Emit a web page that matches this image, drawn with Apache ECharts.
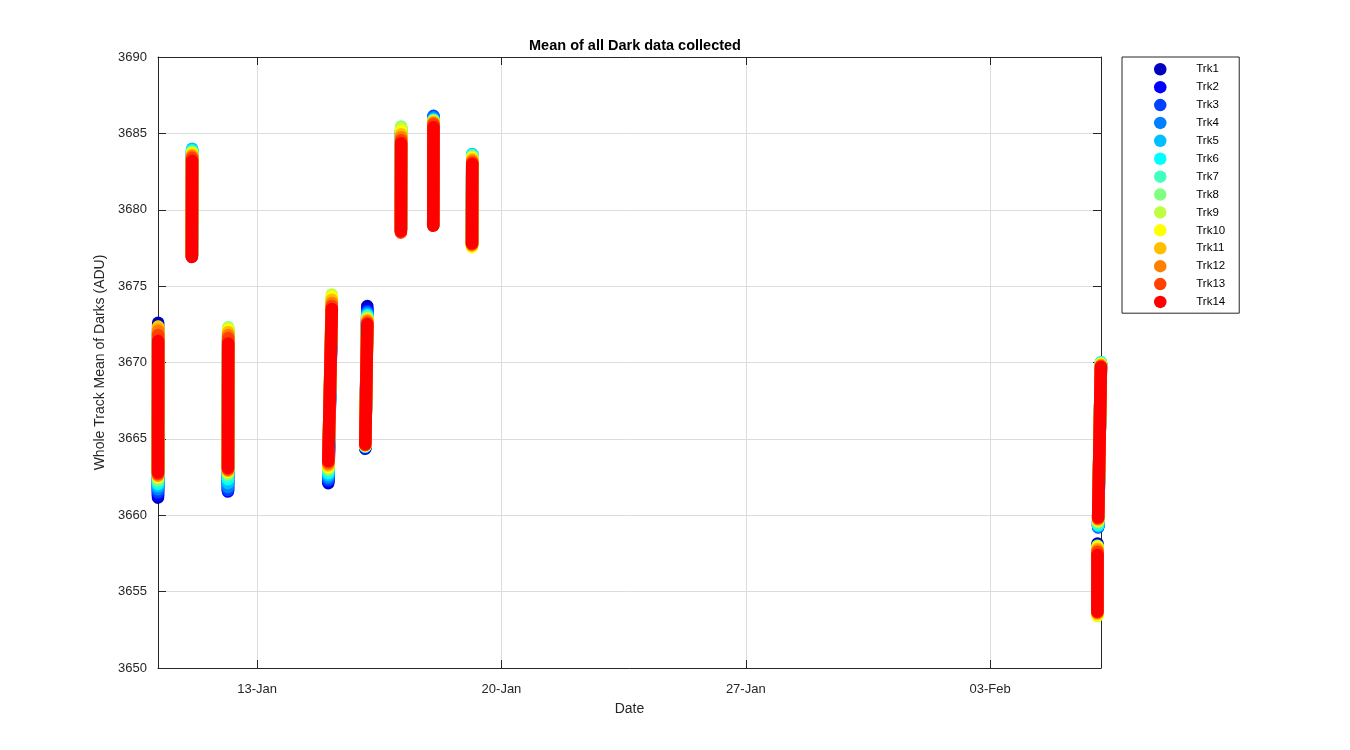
<!DOCTYPE html>
<html><head><meta charset="utf-8">
<script src="https://cdn.jsdelivr.net/npm/echarts@6/dist/echarts.min.js"></script>
<style>html,body{margin:0;padding:0;background:#fff}#c{width:1350px;height:750px}</style>
</head><body><div id="c"></div>
<script>
// ---------------- data ----------------
const trackNames = ['Trk1','Trk2','Trk3','Trk4','Trk5','Trk6','Trk7','Trk8','Trk9','Trk10','Trk11','Trk12','Trk13','Trk14'];
const trackColors = ['#0000bf','#0000ff','#0040ff','#0080ff','#00bfff','#00ffff','#40ffbf','#80ff80','#bfff40','#ffff00','#ffbf00','#ff8000','#ff4000','#ff0000'];

// each collection session: start / end time (UTC)
const sessionStart = ['2016-01-10T03:48','2016-01-11T03:05','2016-01-12T03:55','2016-01-15T00:55','2016-01-16T02:20','2016-01-17T02:50','2016-01-18T01:05','2016-01-19T03:45','2016-02-06T01:50','2016-02-06T02:20'];
const sessionEnd   = ['2016-01-10T03:55','2016-01-11T03:15','2016-01-12T04:05','2016-01-15T03:20','2016-01-16T03:45','2016-01-17T03:00','2016-01-18T01:15','2016-01-19T03:55','2016-02-06T01:55','2016-02-06T04:15'];

// per session, per track (Trk1..Trk14): value at session start (low) and at session end (high), ADU
const sessionLow = [
  [3661.15,3661.3,3661.5,3661.7,3661.9,3662.05,3662.2,3662.3,3662.45,3662.5,3662.6,3662.6,3662.7,3662.8],
  [3676.95,3676.95,3677.0,3677.0,3677.0,3677.0,3677.0,3677.0,3677.0,3677.0,3677.0,3677.0,3676.95,3676.9],
  [3661.6,3661.55,3661.65,3661.85,3662.1,3662.35,3662.55,3662.7,3662.8,3662.85,3662.9,3662.95,3663.0,3663.1],
  [3662.1,3662.2,3662.3,3662.45,3662.6,3662.75,3662.9,3663.0,3663.1,3663.15,3663.25,3663.35,3663.45,3663.55],
  [3664.35,3664.4,3664.45,3664.5,3664.5,3664.5,3664.5,3664.55,3664.55,3664.55,3664.6,3664.6,3664.6,3664.65],
  [3678.7,3678.7,3678.7,3678.7,3678.7,3678.7,3678.7,3678.7,3678.7,3678.65,3678.6,3678.55,3678.5,3678.6],
  [3679.0,3679.0,3679.0,3679.0,3679.0,3679.0,3679.0,3679.0,3679.0,3679.0,3679.0,3679.0,3679.0,3678.95],
  [3677.75,3677.75,3677.7,3677.7,3677.7,3677.7,3677.7,3677.65,3677.6,3677.55,3677.65,3677.7,3677.75,3677.8],
  [3653.8,3653.75,3653.7,3653.65,3653.6,3653.55,3653.5,3653.45,3653.4,3653.45,3653.55,3653.6,3653.65,3653.7],
  [3659.3,3659.25,3659.2,3659.25,3659.3,3659.35,3659.45,3659.55,3659.6,3659.65,3659.7,3659.75,3659.8,3659.85]
];
const sessionHigh = [
  [3672.6,3672.2,3672.0,3671.9,3671.9,3671.9,3672.0,3672.1,3672.2,3672.35,3672.3,3672.1,3671.8,3671.4],
  [3683.6,3683.7,3683.8,3683.9,3684.0,3683.9,3683.8,3683.8,3683.75,3683.7,3683.6,3683.5,3683.4,3683.2],
  [3671.5,3671.5,3671.6,3671.7,3671.8,3671.9,3672.1,3672.3,3672.25,3672.15,3672.0,3671.8,3671.6,3671.25],
  [3673.5,3673.6,3673.7,3673.8,3673.9,3674.0,3674.1,3674.3,3674.45,3674.3,3674.1,3673.9,3673.7,3673.5],
  [3673.7,3673.5,3673.35,3673.25,3673.15,3673.1,3673.0,3672.95,3672.9,3672.85,3672.8,3672.7,3672.6,3672.5],
  [3685.0,3685.05,3685.1,3685.15,3685.2,3685.25,3685.35,3685.45,3685.35,3685.15,3684.95,3684.75,3684.55,3684.35],
  [3686.0,3686.1,3686.15,3686.05,3685.95,3685.9,3685.85,3685.85,3685.8,3685.8,3685.75,3685.7,3685.6,3685.4],
  [3683.4,3683.45,3683.5,3683.55,3683.65,3683.6,3683.55,3683.5,3683.45,3683.4,3683.3,3683.2,3683.1,3683.0],
  [3658.15,3658.05,3657.95,3657.9,3657.9,3657.9,3657.9,3657.95,3658.0,3657.9,3657.8,3657.7,3657.6,3657.4],
  [3669.9,3669.95,3669.95,3670.0,3670.0,3670.0,3670.0,3669.95,3669.9,3669.9,3669.85,3669.8,3669.75,3669.7]
];

const xTickDates  = ['2016-01-13T00:00','2016-01-20T00:00','2016-01-27T00:00','2016-02-03T00:00'];
const xTickLabels = ['13-Jan','20-Jan','27-Jan','03-Feb'];
const xAxisStart = '2016-01-10T03:48';
const xAxisEnd   = '2016-02-06T04:18';
const yMin = 3650, yMax = 3690, yStep = 5;

// ---------------- chart ----------------
const T0 = Date.parse('2016-01-01T00:00:00Z');
const toDay = s => (Date.parse(s + ':00Z') - T0) / 86400000;
const tickDays = xTickDates.map(toDay);
const fmtX = v => { let i = tickDays.findIndex(d => Math.abs(d - v) < 1e-6); return i >= 0 ? xTickLabels[i] : ''; };

const AX = '#262626';
const series = trackNames.map((name, k) => {
  const data = [];
  sessionStart.forEach((s, i) => {
    data.push([toDay(s), sessionLow[i][k]]);
    data.push([toDay(sessionEnd[i]), sessionHigh[i][k]]);
    data.push([toDay(sessionEnd[i]), '-']);
  });
  return {
    name, type: 'line', data, clip: false, showSymbol: false, symbol: 'none',
    connectNulls: false, animation: false, silent: true,
    itemStyle: { color: trackColors[k] },
    lineStyle: { color: trackColors[k], width: 12.5, cap: 'round', join: 'round' },
    emphasis: { disabled: true }
  };
});

const chart = echarts.init(document.getElementById('c'), null, { renderer: 'canvas' });
chart.setOption({
  backgroundColor: '#fff',
  animation: false,
  textStyle: { fontFamily: 'Liberation Sans, Arial, sans-serif' },
  title: {
    text: 'Mean of all Dark data collected', left: 630, top: 33, textAlign: 'center',
    textStyle: { fontSize: 14.5, fontWeight: 'bold', color: '#000', fontFamily: 'Liberation Sans, Arial, sans-serif' }
  },
  grid: { left: 158, right: 249, top: 57, bottom: 82, containLabel: false },
  legend: {
    orient: 'vertical', left: 1122, top: 57, icon: 'circle',
    itemWidth: 62, itemHeight: 12.5, itemGap: 5.4,
    padding: [6, 14, 5, 32],
    borderColor: AX, borderWidth: 1, backgroundColor: '#fff',
    textStyle: { fontSize: 11.5, color: '#000' },
    selectedMode: false, data: trackNames
  },
  xAxis: [{
    type: 'value', min: toDay(xAxisStart), max: toDay(xAxisEnd),
    name: 'Date', nameLocation: 'middle', nameGap: 34,
    nameTextStyle: { fontSize: 14, color: AX },
    axisLine: { show: true, onZero: false, lineStyle: { color: AX, width: 1 } },
    axisTick: { show: true, inside: true, length: 8, customValues: tickDays, lineStyle: { color: AX } },
    axisLabel: { customValues: tickDays, formatter: fmtX, fontSize: 13, color: AX, margin: 15 },
    splitLine: { show: true, lineStyle: { color: '#dcdcdc', width: 1 } }
  }, {
    type: 'value', position: 'top', min: toDay(xAxisStart), max: toDay(xAxisEnd),
    axisLine: { show: true, onZero: false, lineStyle: { color: AX, width: 1 } },
    axisTick: { show: true, inside: true, length: 8, customValues: tickDays, lineStyle: { color: AX } },
    axisLabel: { show: false }, splitLine: { show: false }
  }],
  yAxis: [{
    type: 'value', min: yMin, max: yMax, interval: yStep,
    name: 'Whole Track Mean of Darks (ADU)', nameLocation: 'middle', nameGap: 39,
    nameTextStyle: { fontSize: 14, color: AX },
    axisLine: { show: true, onZero: false, lineStyle: { color: AX, width: 1 } },
    axisTick: { show: true, inside: true, length: 8, lineStyle: { color: AX } },
    axisLabel: { fontSize: 13, color: AX, margin: 11, formatter: v => String(v) },
    splitLine: { show: true, lineStyle: { color: '#dcdcdc', width: 1 } }
  }, {
    type: 'value', position: 'right', min: yMin, max: yMax, interval: yStep,
    axisLine: { show: true, onZero: false, lineStyle: { color: AX, width: 1 } },
    axisTick: { show: true, inside: true, length: 8, lineStyle: { color: AX } },
    axisLabel: { show: false }, splitLine: { show: false }
  }],
  series
});
</script></body></html>
